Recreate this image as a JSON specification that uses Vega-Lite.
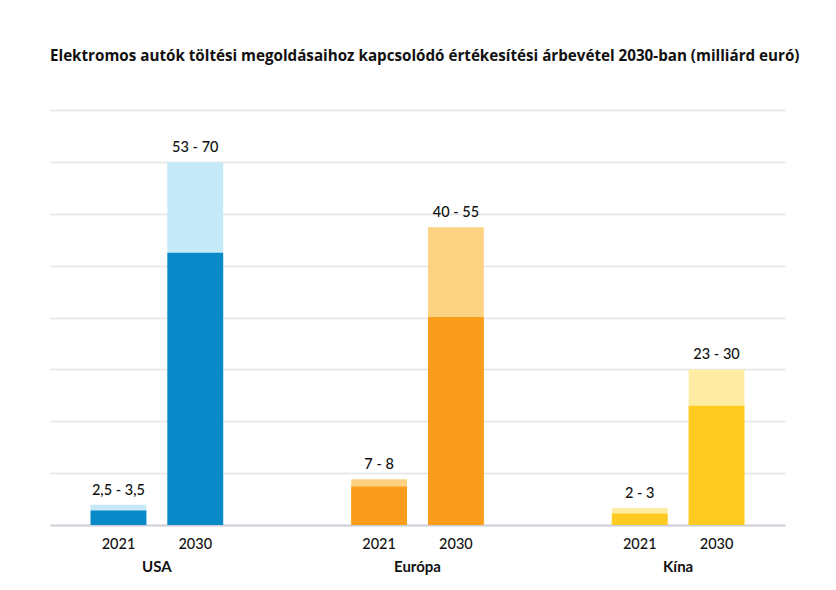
{
  "$schema": "https://vega.github.io/schema/vega-lite/v6.json",
  "autosize": "none",
  "width": 735,
  "height": 415,
  "padding": {"left": 50, "top": 110, "right": 51, "bottom": 65},
  "background": "white",
  "title": {
    "text": "Elektromos autók töltési megoldásaihoz kapcsolódó értékesítési árbevétel 2030-ban (milliárd euró)",
    "anchor": "start",
    "frame": "group",
    "font": "Open Sans",
    "fontSize": 15.2,
    "fontWeight": 700,
    "color": "#111111",
    "offset": 46
  },
  "config": {
    "view": {"stroke": null},
    "font": "Lato"
  },
  "data": {
    "values": [
      {"region": "USA", "year": "2021", "lo": 2.8, "hi": 3.9, "label": "2,5 - 3,5"},
      {"region": "USA", "year": "2030", "lo": 52.5, "hi": 70, "label": "53 - 70"},
      {"region": "Európa", "year": "2021", "lo": 7.4, "hi": 8.8, "label": "7 - 8"},
      {"region": "Európa", "year": "2030", "lo": 40.1, "hi": 57.4, "label": "40 - 55"},
      {"region": "Kína", "year": "2021", "lo": 2.2, "hi": 3.3, "label": "2 - 3"},
      {"region": "Kína", "year": "2030", "lo": 23, "hi": 30, "label": "23 - 30"}
    ]
  },
  "encoding": {
    "x": {
      "field": "region",
      "type": "nominal",
      "sort": ["USA", "Európa", "Kína"],
      "scale": {"paddingInner": 0.2, "paddingOuter": 0.01},
      "axis": {
        "title": null,
        "labelAngle": 0,
        "ticks": false,
        "labelPadding": 34,
        "labelFont": "Lato",
        "labelFontSize": 15,
        "labelFontWeight": 700,
        "labelColor": "#111111",
        "domainColor": "#c9cdd4",
        "domainWidth": 2
      }
    },
    "xOffset": {
      "field": "year",
      "type": "nominal",
      "scale": {"paddingInner": 0.273, "paddingOuter": 0.494}
    }
  },
  "layer": [
    {
      "mark": {"type": "bar"},
      "encoding": {
        "y": {
          "field": "hi",
          "type": "quantitative",
          "scale": {"domain": [0, 80], "nice": false},
          "axis": {
            "title": null,
            "values": [10, 20, 30, 40, 50, 60, 70, 80],
            "labels": false,
            "ticks": false,
            "domain": false,
            "gridColor": "#e4e4e4",
            "gridWidth": 1.5
          }
        },
        "color": {
          "field": "region",
          "type": "nominal",
          "scale": {"domain": ["USA", "Európa", "Kína"], "range": ["#c6e9f8", "#fdd383", "#ffeca3"]},
          "legend": null
        }
      }
    },
    {
      "mark": {"type": "bar"},
      "encoding": {
        "y": {"field": "lo", "type": "quantitative"},
        "color": {
          "field": "region",
          "type": "nominal",
          "scale": {"domain": ["USA", "Európa", "Kína"], "range": ["#0889c8", "#fa9c1c", "#ffca22"]},
          "legend": null
        }
      }
    },
    {
      "mark": {"type": "text", "baseline": "bottom", "dy": -7, "fontSize": 14.5, "fontWeight": 500, "color": "#111111"},
      "encoding": {
        "y": {"field": "hi", "type": "quantitative"},
        "text": {"field": "label"}
      }
    },
    {
      "mark": {"type": "text", "baseline": "middle", "dy": 20, "fontSize": 14.5, "fontWeight": 500, "color": "#111111"},
      "encoding": {
        "y": {"datum": 0, "type": "quantitative"},
        "text": {"field": "year"}
      }
    }
  ],
  "resolve": {"scale": {"color": "independent"}}
}
